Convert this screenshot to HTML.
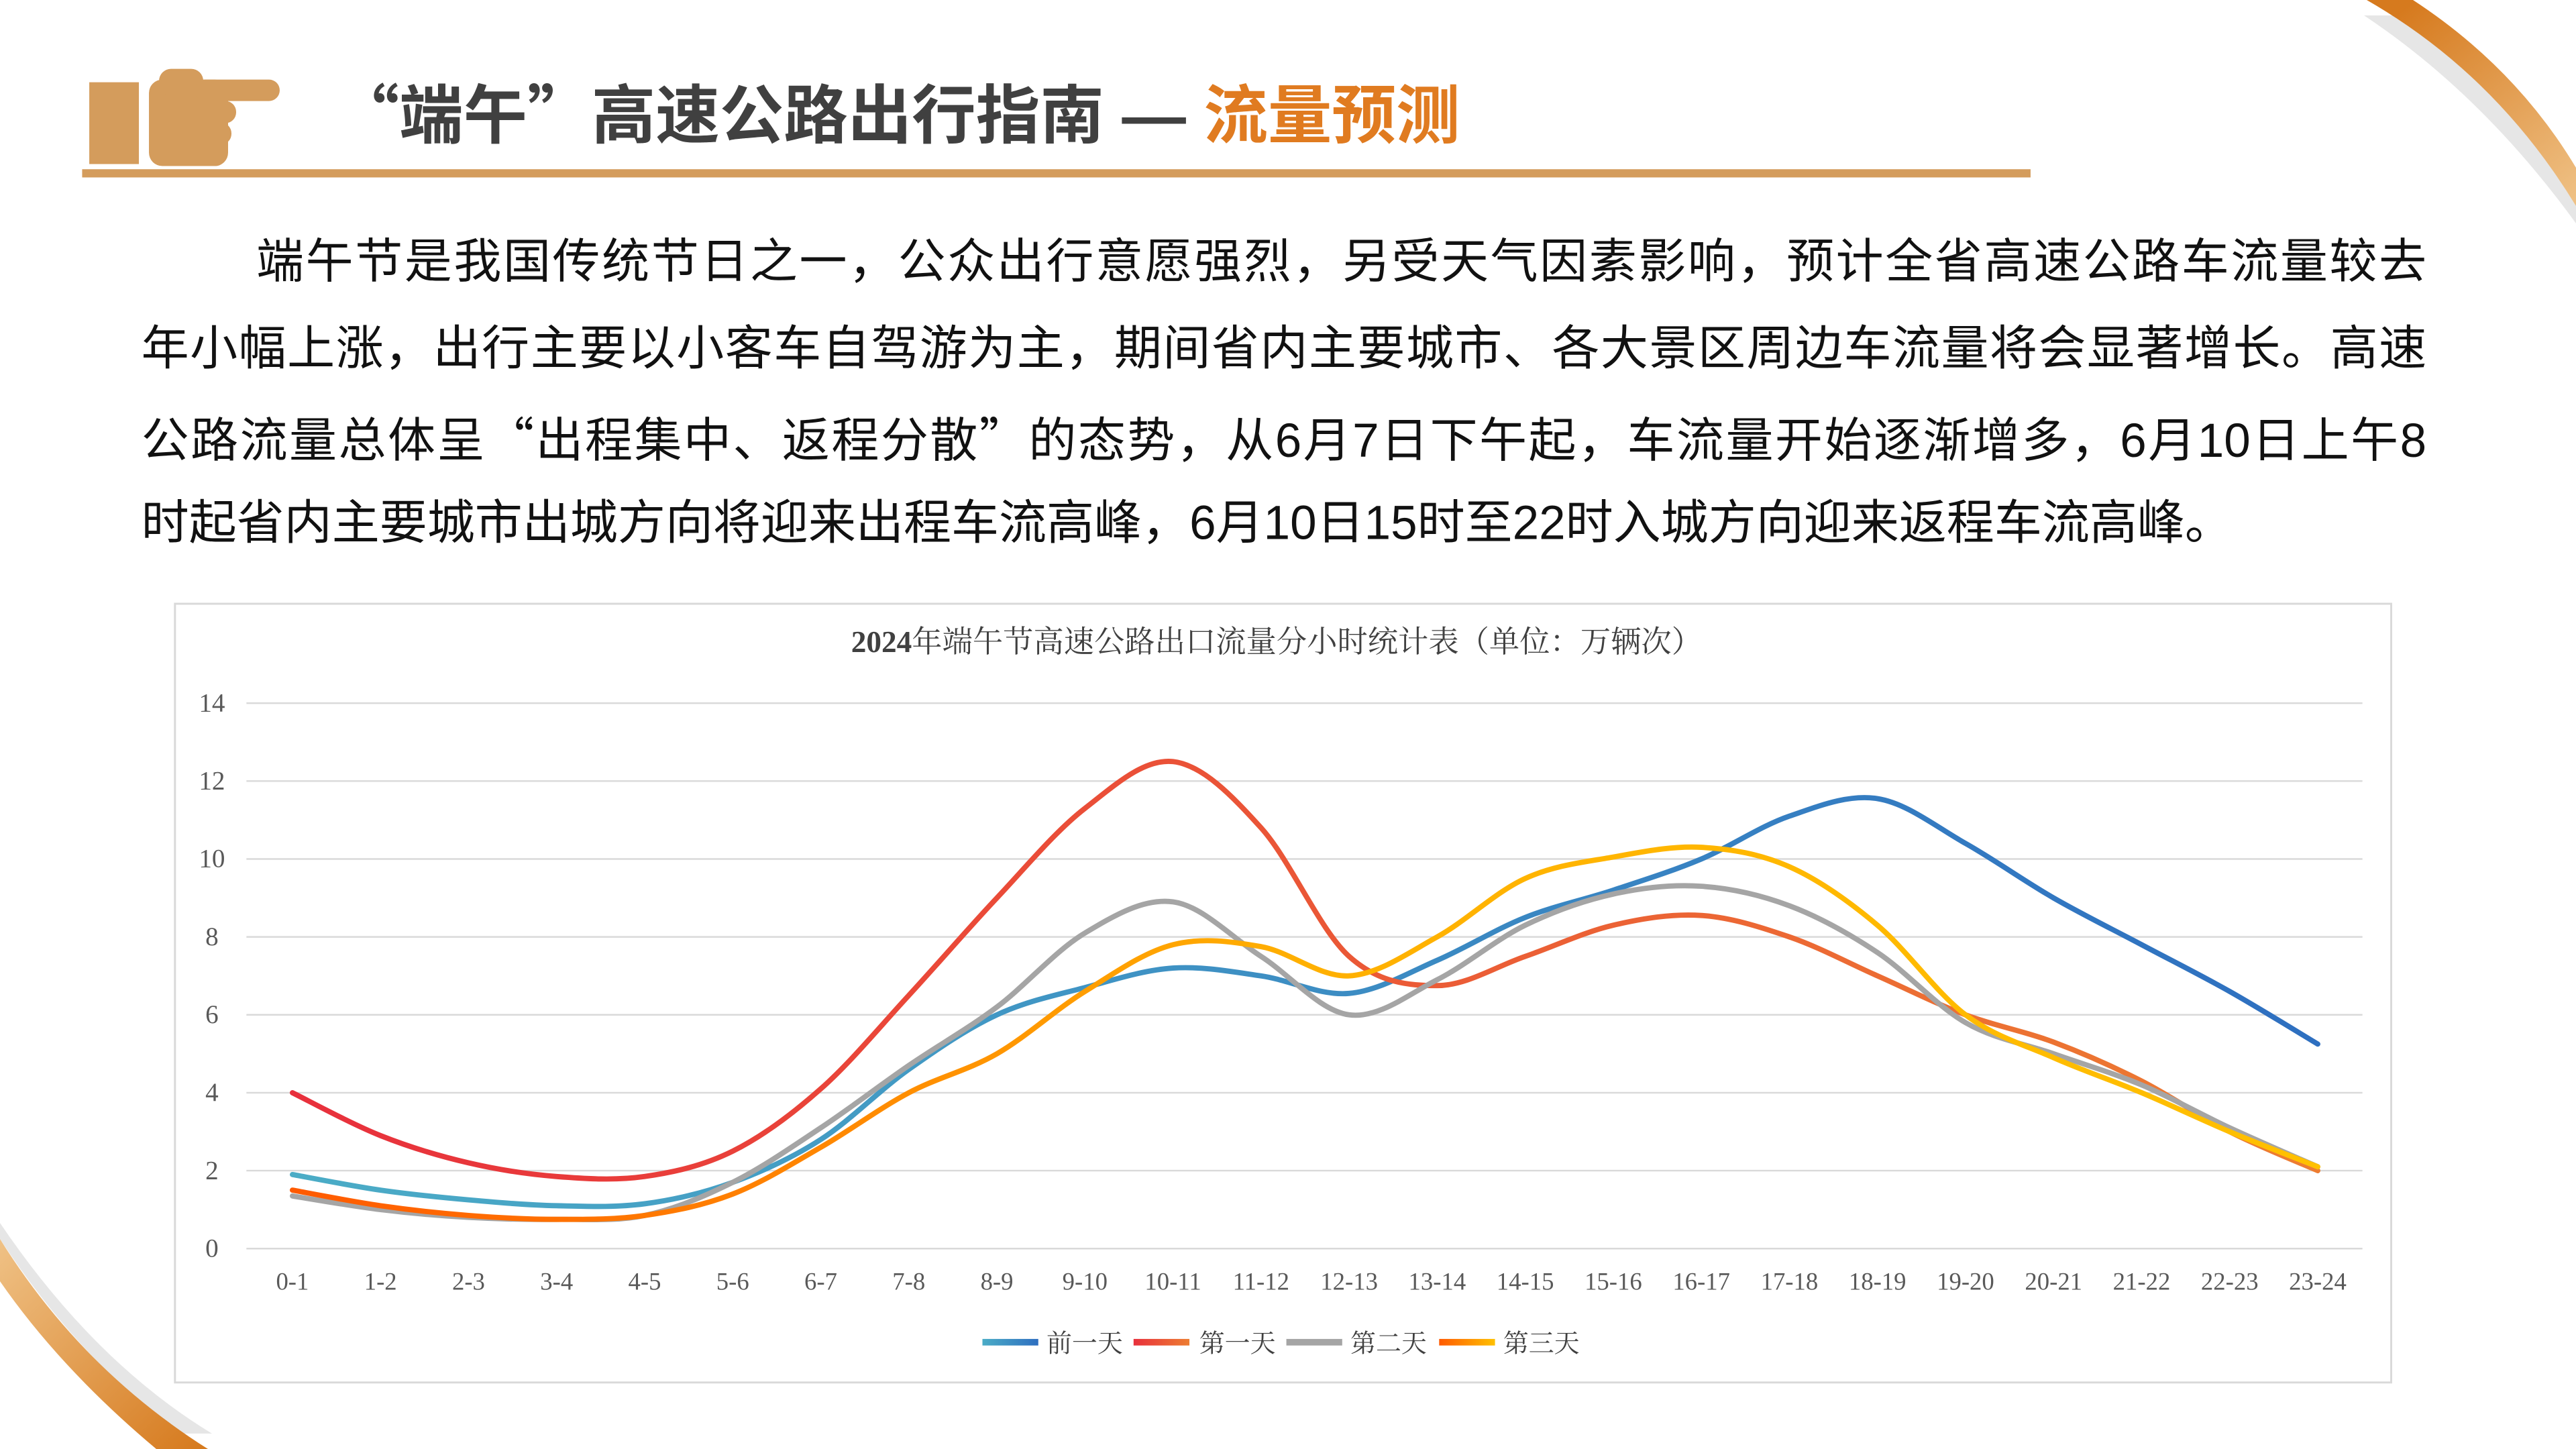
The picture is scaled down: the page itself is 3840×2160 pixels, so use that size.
<!DOCTYPE html>
<html><head><meta charset="utf-8">
<style>
html,body{margin:0;padding:0;background:#fff;}
body{width:3840px;height:2160px;position:relative;overflow:hidden;}
#w{position:absolute;left:0;top:0;width:1568px;height:882px;transform:scale(2.44898);transform-origin:0 0;}
.t{position:absolute;left:204px;top:40px;font:bold 39px "Liberation Sans","Noto Sans CJK SC",sans-serif;color:#404040;white-space:nowrap;}
.t span{color:#e07b20;}
.q{font-family:"Noto Sans CJK SC",sans-serif;}
.bar{position:absolute;left:50px;top:103px;width:1186px;height:5px;background:#d49c5c;}
.p{position:absolute;left:86px;width:1391px;height:40px;font:29px "Liberation Sans","Noto Sans CJK SC",sans-serif;color:#111;white-space:nowrap;text-align:justify;text-align-last:justify;line-height:40px;}
</style></head><body>
<svg style="position:absolute;left:0;top:0" width="3840" height="2160" viewBox="0 0 3840 2160">
<defs>
<linearGradient id="o1" x1="3600" y1="0" x2="3840" y2="300" gradientUnits="userSpaceOnUse"><stop offset="0" stop-color="#d67a1e"/><stop offset="1" stop-color="#efc185"/></linearGradient>
<linearGradient id="o2" x1="0" y1="1850" x2="300" y2="2160" gradientUnits="userSpaceOnUse"><stop offset="0" stop-color="#efc185"/><stop offset="1" stop-color="#d67a1e"/></linearGradient>
</defs>
<path d="M3524,23 L3575,23 Q3730,120 3840,307 L3840,333 Q3700,140 3524,23 Z" fill="#e6e6e6"/>
<path d="M3528,0 L3597,0 Q3750,100 3840,250 L3840,307 Q3720,110 3528,0 Z" fill="url(#o1)"/>
<path d="M0,1823 Q140,2030 316,2137 L270,2137 Q120,2030 0,1847 Z" fill="#e6e6e6"/>
<path d="M0,1847 Q120,2040 310,2160 L233,2160 Q90,2040 0,1910 Z" fill="url(#o2)"/>
</svg>
<div id="w">
<svg style="position:absolute;left:49px;top:36.75px" width="130.7" height="69.4" viewBox="120 90 320 170">
<g fill="#d49c5c">
<rect x="133" y="122" width="74" height="122"/>
<rect x="222" y="118" width="118" height="129" rx="20"/>
<rect x="237" y="102" width="66" height="40" rx="18"/>
<rect x="290" y="118" width="127" height="32" rx="16"/>
<rect x="300" y="150" width="52" height="33" rx="16"/>
<rect x="300" y="182" width="45" height="33" rx="16"/>
<rect x="290" y="215" width="47" height="32" rx="16"/>
</g></svg>
<div class="t"><span class="q" style="color:#404040">“</span>端午<span class="q" style="color:#404040">”</span>高速公路出行指南 — <span>流量预测</span></div>
<div class="bar"></div>
<div class="p" style="top:140px;left:156px;width:1321px">端午节是我国传统节日之一，公众出行意愿强烈，另受天气因素影响，预计全省高速公路车流量较去</div>
<div class="p" style="top:193px">年小幅上涨，出行主要以小客车自驾游为主，期间省内主要城市、各大景区周边车流量将会显著增长。高速</div>
<div class="p" style="top:246px">公路流量总体呈<span class="q">“</span>出程集中、返程分散<span class="q">”</span>的态势，从6月7日下午起，车流量开始逐渐增多，6月10日上午8</div>
<div class="p" style="top:299px;text-align-last:left;text-align:left">时起省内主要城市出城方向将迎来出程车流高峰，6月10日15时至22时入城方向迎来返程车流高峰。</div>
<svg id="c" style="position:absolute;left:0;top:0" width="1568" height="882" viewBox="0 0 1568 882" font-family="'Liberation Serif','Noto Serif CJK SC',serif">
<defs>
<linearGradient id="g0" x1="178" x2="1411" y1="0" y2="0" gradientUnits="userSpaceOnUse"><stop offset="0" stop-color="#4bacc6"/><stop offset="1" stop-color="#2e6fc0"/></linearGradient>
<linearGradient id="g1" x1="178" x2="1411" y1="0" y2="0" gradientUnits="userSpaceOnUse"><stop offset="0" stop-color="#e8303c"/><stop offset="1" stop-color="#ed7d31"/></linearGradient>
<linearGradient id="g2" x1="178" x2="1411" y1="0" y2="0" gradientUnits="userSpaceOnUse"><stop offset="0" stop-color="#a5a5a5"/><stop offset="1" stop-color="#a5a5a5"/></linearGradient>
<linearGradient id="g3" x1="178" x2="1411" y1="0" y2="0" gradientUnits="userSpaceOnUse"><stop offset="0" stop-color="#ff5a00"/><stop offset="0.5" stop-color="#ffb000"/><stop offset="1" stop-color="#ffc000"/></linearGradient>
<linearGradient id="l0" x1="0" x2="1"><stop offset="0" stop-color="#4bacc6"/><stop offset="1" stop-color="#2e6fc0"/></linearGradient>
<linearGradient id="l1" x1="0" x2="1"><stop offset="0" stop-color="#e8303c"/><stop offset="1" stop-color="#ed7d31"/></linearGradient>
<linearGradient id="l3" x1="0" x2="1"><stop offset="0" stop-color="#ff5a00"/><stop offset="1" stop-color="#ffc000"/></linearGradient>
</defs>
<rect x="106.5" y="367.5" width="1349" height="474" fill="#fff" stroke="#d9d9d9" stroke-width="1.2"/>
<text x="777" y="397" text-anchor="middle" font-size="18.5" fill="#404040"><tspan font-weight="bold">2024</tspan>年端午节高速公路出口流量分小时统计表（单位：万辆次）</text>
<g id="grid"></g>
<g id="lines" fill="none" stroke-width="3.2" stroke-linecap="round"></g>
<g font-size="15.5" fill="#404040">
<rect x="598" y="815" width="34" height="4" fill="url(#l0)"/><text x="637" y="823">前一天</text>
<rect x="690" y="815" width="34" height="4" fill="url(#l1)"/><text x="730" y="823">第一天</text>
<rect x="783" y="815" width="34" height="4" fill="#a5a5a5"/><text x="822" y="823">第二天</text>
<rect x="876" y="815" width="34" height="4" fill="url(#l3)"/><text x="915" y="823">第三天</text>
</g>
</svg>
</div>
<script>
var NS="http://www.w3.org/2000/svg";
function el(t,a,p,txt){var e=document.createElementNS(NS,t);for(var k in a)e.setAttribute(k,a[k]);if(txt!=null)e.textContent=txt;p.appendChild(e);return e;}
var g=document.getElementById('grid');
function Y(v){return 760-v*23.714;}
function X(i){return 178+i*53.6;}
for(var v=0;v<=14;v+=2){el('line',{x1:150,x2:1438,y1:Y(v),y2:Y(v),stroke:'#d9d9d9','stroke-width':1},g);
el('text',{x:129,y:Y(v)+5,'text-anchor':'middle','font-size':16,fill:'#595959'},g,String(v));}
for(var i=0;i<24;i++)el('text',{x:X(i),y:785,'text-anchor':'middle','font-size':15,fill:'#595959'},g,i+'-'+(i+1));
var D=[
[1.9,1.5,1.25,1.1,1.15,1.7,2.8,4.6,6,6.7,7.2,7.0,6.55,7.4,8.5,9.2,10,11.1,11.55,10.4,9,7.8,6.6,5.25],
[4.0,2.9,2.2,1.85,1.85,2.5,4.1,6.5,9,11.3,12.5,10.8,7.5,6.75,7.5,8.3,8.55,8,7,6,5.3,4.3,3.0,2.0],
[1.35,1.0,0.8,0.75,0.85,1.7,3.1,4.7,6.2,8.1,8.9,7.5,6.0,6.9,8.3,9.1,9.3,8.8,7.6,5.8,5,4.2,3.1,2.1],
[1.5,1.1,0.85,0.75,0.85,1.4,2.6,4.0,5.0,6.6,7.8,7.75,7.0,8.0,9.5,10.05,10.3,9.8,8.3,6.0,4.9,4.0,3.0,2.1]];
var L=document.getElementById('lines');
D.forEach(function(d,k){
 var p=d.map(function(v,i){return [X(i),Y(v)];});
 var s='M'+p[0][0]+','+p[0][1];
 for(var i=0;i<p.length-1;i++){
  var p0=p[i-1]||p[i],p1=p[i],p2=p[i+1],p3=p[i+2]||p[i+1],t=6;
  s+=' C'+(p1[0]+(p2[0]-p0[0])/t)+','+(p1[1]+(p2[1]-p0[1])/t)+' '+(p2[0]-(p3[0]-p1[0])/t)+','+(p2[1]-(p3[1]-p1[1])/t)+' '+p2[0]+','+p2[1];
 }
 el('path',{d:s,stroke:'url(#g'+k+')'},L);
});
</script>
</body></html>
